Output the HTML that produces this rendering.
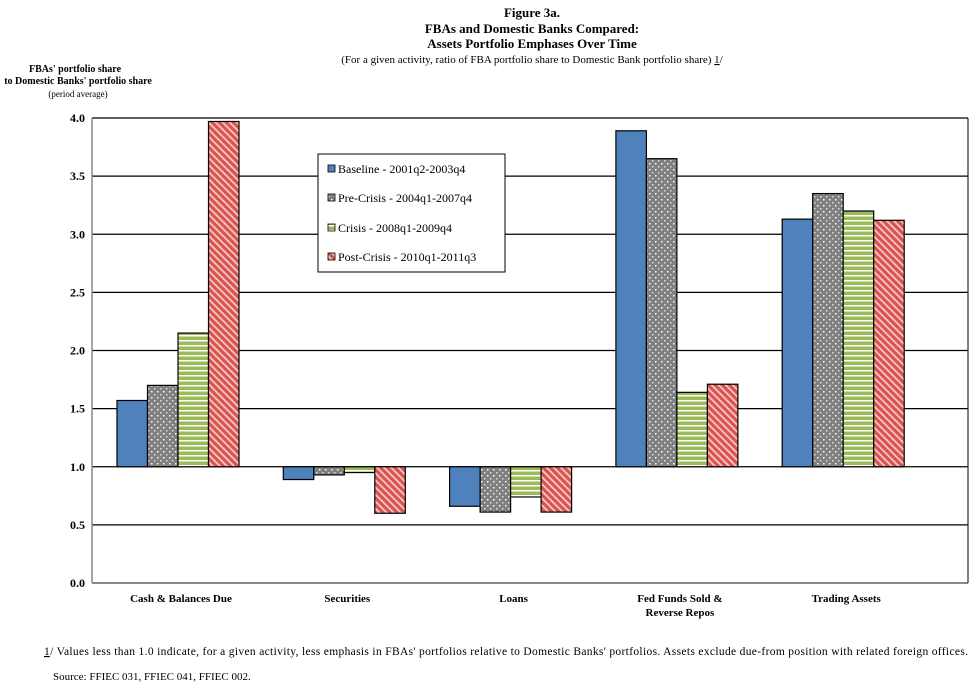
<!DOCTYPE html>
<html><head><meta charset="utf-8"><style>
body{margin:0;background:#fff;width:974px;height:691px;overflow:hidden}
text{font-family:"Liberation Serif",serif;fill:#000}
</style></head><body>
<svg id="chart" width="974" height="691" xmlns="http://www.w3.org/2000/svg">
<defs>
<pattern id="pDot" width="6" height="6" patternUnits="userSpaceOnUse"><rect width="6" height="6" fill="#808080"/><rect x="1" y="1" width="1.5" height="1.5" fill="#fff"/><rect x="4" y="4" width="1.5" height="1.5" fill="#ddd"/></pattern>
<pattern id="pStripe" width="6" height="5" patternUnits="userSpaceOnUse"><rect width="6" height="5" fill="#9bbb59"/><rect y="0" width="6" height="1.5" fill="#fff"/></pattern>
<pattern id="pHatch" width="5" height="5" patternUnits="userSpaceOnUse" patternTransform="rotate(-45)"><rect width="5" height="5" fill="#d9534f"/><rect width="1.8" height="5" fill="#f6c9c8"/></pattern>
</defs>
<text x="532" y="17" font-size="13" font-weight="bold" text-anchor="middle">Figure 3a.</text>
<text x="532" y="33" font-size="13" font-weight="bold" text-anchor="middle">FBAs and Domestic Banks Compared:</text>
<text x="532" y="48" font-size="13" font-weight="bold" text-anchor="middle">Assets Portfolio Emphases Over Time</text>
<text x="532" y="63" font-size="11" text-anchor="middle">(For a given activity, ratio of  FBA portfolio share to Domestic Bank portfolio share) <tspan text-decoration="underline">1</tspan>/</text>
<text x="75" y="72" font-size="10" font-weight="bold" text-anchor="middle">FBAs' portfolio share</text>
<text x="78" y="84" font-size="10" font-weight="bold" text-anchor="middle">to Domestic Banks' portfolio share</text>
<text x="78" y="97" font-size="9" text-anchor="middle">(period average)</text>
<g id="grid"></g>
<g id="bars"></g>
<g id="labels"></g>
<g>
<rect x="318" y="154" width="187" height="118" fill="#fff" stroke="#000" stroke-width="1"/>
<rect x="328" y="165" width="7" height="7" fill="#4f81bd" stroke="#000" stroke-width="0.8"/>
<text x="338" y="173" font-size="12">Baseline - 2001q2-2003q4</text>
<rect x="328" y="194" width="7" height="7" fill="url(#pDot)" stroke="#000" stroke-width="0.8"/>
<text x="338" y="202" font-size="12">Pre-Crisis - 2004q1-2007q4</text>
<rect x="328" y="224" width="7" height="7" fill="url(#pStripe)" stroke="#000" stroke-width="0.8"/>
<text x="338" y="232" font-size="12">Crisis - 2008q1-2009q4</text>
<rect x="328" y="253" width="7" height="7" fill="url(#pHatch)" stroke="#000" stroke-width="0.8"/>
<text x="338" y="261" font-size="12">Post-Crisis - 2010q1-2011q3</text>
</g>
<text x="44" y="655" font-size="11.5" textLength="924" lengthAdjust="spacing"><tspan text-decoration="underline">1</tspan>/ Values less than 1.0 indicate, for a given activity, less emphasis in FBAs' portfolios relative to Domestic Banks' portfolios.  Assets exclude due-from  position with related foreign offices.</text>
<text x="53" y="680" font-size="11">Source:  FFIEC 031, FFIEC 041, FFIEC 002.</text>
</svg>
<script>
const categories = ["Cash & Balances Due","Securities","Loans","Fed Funds Sold &|Reverse Repos","Trading Assets"];
const seriesNames = ["baseline","pre-crisis","crisis","post-crisis"];
const baseline = [1.57,0.89,0.66,3.89,3.13];
const preCrisis = [1.70,0.93,0.61,3.65,3.35];
const crisis = [2.15,0.95,0.74,1.64,3.20];
const postCrisis = [3.97,0.60,0.61,1.71,3.12];
const yTicks = [0,0.5,1.0,1.5,2.0,2.5,3.0,3.5,4.0];
const refValue = 1.0;

const NS="http://www.w3.org/2000/svg";
const L=92,R=968,T=118,B=583,yMax=4;
const y=v=>B-(v/yMax)*(B-T);
const firstCenter=178, gw=166.3, bw=30.5;
const fills=["#4f81bd","url(#pDot)","url(#pStripe)","url(#pHatch)"];
const series=[baseline,preCrisis,crisis,postCrisis];
function mk(tag,attrs,parent){const e=document.createElementNS(NS,tag);for(const k in attrs)e.setAttribute(k,attrs[k]);parent.appendChild(e);return e;}
const grid=document.getElementById('grid'),bars=document.getElementById('bars'),labels=document.getElementById('labels');
yTicks.forEach(t=>{
  const ln=mk('line',{x1:L,x2:R,y1:y(t),y2:y(t),stroke:t===0?'#888':'#000','stroke-width':t===0?2:1.2},grid);
  
  
  const tx=mk('text',{x:L-7,y:y(t)+4,'font-size':12,'font-weight':'bold','text-anchor':'end'},labels);
  tx.textContent=t.toFixed(1);
  
  
});
mk('line',{x1:R,x2:R,y1:T,y2:B,stroke:'#000','stroke-width':1},grid);
const ax=mk('line',{x1:L,x2:L,y1:T,y2:B,stroke:'#888','stroke-width':1.5},grid);


categories.forEach((c,i)=>{
  const cx=firstCenter+gw*i;
  series.forEach((s,j)=>{
    const x=cx-2*bw+j*bw, v=s[i];
    const top=Math.min(y(v),y(refValue)), h=Math.abs(y(v)-y(refValue));
    const r=mk('rect',{x:x,y:top,width:bw,height:h,fill:fills[j],stroke:'#000','stroke-width':1.2},bars);
    
    
  });
  c.split('|').forEach((part,k)=>{
    const t=mk('text',{x:cx+3,y:602+k*14,'font-size':11,'font-weight':'bold','text-anchor':'middle'},labels);
    t.textContent=part;
    
    
  });
});
</script>
</body></html>
